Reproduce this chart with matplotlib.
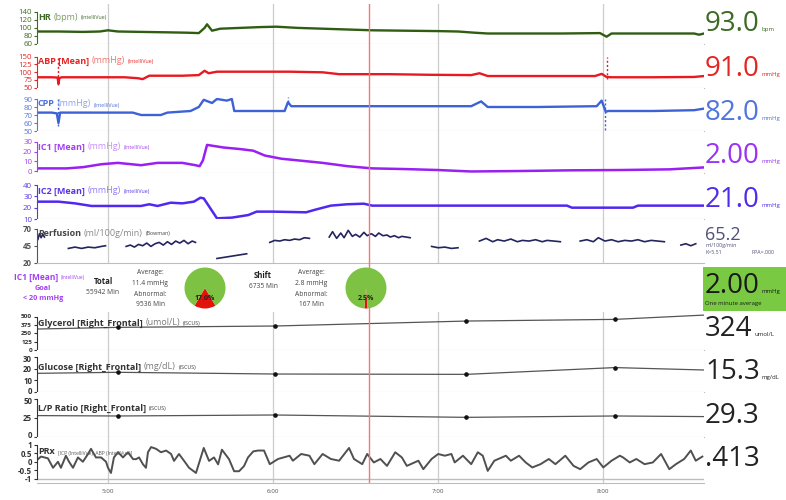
import numpy as np
import matplotlib.pyplot as plt
from matplotlib.patches import Rectangle
from matplotlib.transforms import ScaledTranslation
from matplotlib.offsetbox import TextArea, HPacker, AnchoredOffsetbox

plt.rcParams['font.family'] = ['Open Sans', 'DejaVu Sans']

W, H = 786, 500

# time axis in decimal hours
x_range = (4.57, 8.61)
cursor_t = 6.58
hour_ticks = [5, 6, 7, 8]
hour_labels = ['5:00', '6:00', '7:00', '8:00']

# ---- continuous monitor traces ----
hr_t = [4.57, 4.70, 4.85, 4.95, 5.00, 5.06, 5.20, 5.35, 5.48, 5.55, 5.585, 5.60, 5.63, 5.68, 5.80, 5.92, 6.02, 6.15,
        6.30, 6.45, 6.60, 6.80, 7.00, 7.12, 7.22, 7.30, 7.50, 7.75, 7.98, 8.02, 8.05, 8.20, 8.40, 8.55, 8.58, 8.61]
hr_v = [90, 90, 89, 90, 93, 90, 89, 88, 87, 86, 99, 108, 92, 97, 99, 101, 102, 99,
        97, 95, 93, 92, 91, 90, 87, 85, 85, 85, 86, 77, 85, 85, 85, 85, 82, 85]

abp_t = [4.57, 4.66, 4.695, 4.70, 4.705, 4.72, 4.90, 5.10, 5.18, 5.21, 5.25, 5.45, 5.55, 5.585, 5.61, 5.66, 5.90, 6.10,
         6.30, 6.40, 6.70, 6.95, 7.20, 7.25, 7.30, 7.60, 7.95, 7.99, 8.02, 8.05, 8.30, 8.55, 8.61]
abp_v = [83, 83, 82, 62, 80, 83, 83, 83, 80, 77, 88, 88, 90, 104, 96, 101, 101, 101,
         99, 93, 93, 91, 90, 96, 87, 87, 87, 94, 84, 83, 83, 84, 87]
# dotted artefact markers (time, low, high)
abp_artefact_t = [4.70, 8.02]
abp_artefact_lo = [58, 78]
abp_artefact_hi = [150, 150]

cpp_t = [4.57, 4.66, 4.69, 4.70, 4.71, 4.80, 5.00, 5.15, 5.20, 5.32, 5.36, 5.50, 5.55, 5.58, 5.63, 5.66, 5.72, 5.75, 5.765,
         5.90, 6.07, 6.09, 6.11, 6.40, 6.80, 7.20, 7.26, 7.30, 7.60, 7.96, 7.99, 8.015, 8.03, 8.30, 8.55, 8.61]
cpp_v = [73, 73, 72, 60, 73, 73, 73, 73, 70, 70, 73, 75, 80, 89, 85, 90, 88, 90, 75,
         75, 75, 86, 81, 81, 81, 81, 87, 80, 80, 81, 88, 74, 75, 75, 76, 78]
cpp_artefact_t = [4.70, 6.09, 8.01]
cpp_artefact_lo = [56, 86, 51]
cpp_artefact_hi = [90, 92, 90]

ic1_t = [4.57, 4.75, 4.85, 4.96, 5.06, 5.20, 5.30, 5.45, 5.53, 5.555, 5.575, 5.60, 5.70, 5.80, 5.88,
         5.95, 6.05, 6.15, 6.30, 6.45, 6.60, 6.80, 7.00, 7.20, 7.50, 7.80, 8.10, 8.40, 8.61]
ic1_v = [2.7, 2.7, 4, 7, 8.4, 6, 8.4, 8.4, 6, 5, 11, 27, 24.3, 22.7, 21,
         16, 12.7, 11, 8.4, 5, 2.7, 2, 1, -0.5, 0, 0.7, 1, 1.7, 3.7]

ic2_t = [4.57, 4.70, 4.80, 4.90, 5.20, 5.25, 5.30, 5.38, 5.45, 5.52, 5.56, 5.58, 5.66, 5.75, 5.85,
         5.90, 6.00, 6.20, 6.25, 6.35, 6.45, 6.55, 6.60, 7.78, 7.81, 8.18, 8.21, 8.61]
ic2_v = [25.3, 25.3, 23.8, 21.5, 21.5, 23, 21.5, 24.4, 23.8, 25.3, 28.8, 28.2, 10.6, 11.2, 13.5,
         16.5, 16.5, 15.9, 18, 21.8, 23, 23.5, 21.8, 21.8, 20, 20, 21.8, 21.8]

# perfusion is recorded in separate chunks
perf_segments = [
    ([4.565, 4.575, 4.585, 4.595, 4.605, 4.615], [60, 54, 63, 57, 62, 58]),
    ([4.76, 4.80, 4.84, 4.88, 4.92, 4.96, 4.985], [41, 43, 41, 43, 42, 44, 45]),
    ([5.11, 5.135, 5.16, 5.185, 5.21, 5.235, 5.26, 5.285, 5.31, 5.335, 5.36, 5.385, 5.41, 5.435, 5.46, 5.485, 5.51, 5.53],
     [44, 46, 43, 47, 45, 49, 44, 48, 50, 46, 51, 47, 52, 49, 53, 48, 52, 50]),
    ([5.66, 5.84], [26, 33]),
    ([5.98, 6.01, 6.04, 6.07, 6.10, 6.13, 6.16, 6.19, 6.22], [50, 53, 52, 54, 53, 55, 54, 57, 56]),
    ([6.34, 6.36, 6.385, 6.41, 6.43, 6.455, 6.48, 6.50, 6.525, 6.55, 6.57, 6.595, 6.62, 6.64, 6.665, 6.69, 6.71, 6.735,
      6.76, 6.78, 6.805, 6.83],
     [58, 66, 56, 64, 57, 68, 59, 62, 58, 65, 60, 63, 59, 64, 60, 61, 58, 60, 57, 59, 58, 57]),
    ([6.96, 7.00, 7.04, 7.08, 7.12], [44, 42, 43, 41, 42]),
    ([7.25, 7.29, 7.33, 7.36, 7.40, 7.44, 7.48, 7.51, 7.55, 7.59, 7.63, 7.66, 7.70, 7.74],
     [52, 56, 51, 54, 52, 55, 51, 53, 52, 54, 51, 53, 52, 51]),
    ([7.86, 7.90, 7.94, 7.97, 8.01, 8.05, 8.09, 8.13, 8.17, 8.21, 8.25, 8.29, 8.33, 8.37],
     [52, 54, 51, 57, 52, 54, 51, 53, 52, 54, 51, 53, 52, 51]),
    ([8.47, 8.50, 8.53, 8.56], [46, 48, 45, 48]),
]

# ---- microdialysis samples (line runs edge to edge) ----
md_line_t = [4.57, 5.06, 6.01, 7.17, 8.07, 8.61]
md_sample_t = [5.06, 6.01, 7.17, 8.07]
glycerol_v = [313, 338, 358, 432, 457, 521]
glucose_v = [15.8, 16.7, 15.2, 14.9, 20.8, 18.7]
lp_ratio_v = [27.5, 27.0, 28.3, 25.2, 27.0, 26.2]

prx_t = [4.564, 4.594, 4.636, 4.667, 4.697, 4.715, 4.745, 4.764, 4.788, 4.818, 4.848, 4.879, 4.897, 4.927, 4.958,
         4.988, 5.0, 5.018, 5.036, 5.061, 5.091, 5.121, 5.152, 5.17, 5.188, 5.212, 5.23, 5.242, 5.261, 5.291,
         5.321, 5.352, 5.382, 5.4, 5.43, 5.461, 5.491, 5.533, 5.58, 5.612, 5.642, 5.667, 5.69, 5.733, 5.764,
         5.794, 5.824, 5.848, 5.88, 5.909, 5.945, 5.98, 6.03, 6.10, 6.12, 6.17, 6.22, 6.25, 6.30, 6.35,
         6.40, 6.46, 6.49, 6.54, 6.57, 6.61, 6.65, 6.69, 6.74, 6.78, 6.81, 6.88, 6.91, 6.96, 7.00,
         7.04, 7.08, 7.10, 7.15, 7.20, 7.24, 7.27, 7.30, 7.34, 7.41, 7.44, 7.49, 7.53, 7.57, 7.62,
         7.67, 7.71, 7.77, 7.82, 7.86, 7.91, 7.96, 8.00, 8.05, 8.10, 8.12, 8.16, 8.20, 8.25, 8.30,
         8.35, 8.40, 8.44, 8.49, 8.53, 8.56, 8.60]
prx_v = [0.05, 0.3, 0.2, -0.35, 0.0, -0.35, 0.35, 0.0, -0.35, 0.25, 0.0, 0.45, 0.75, 0.25, 0.25,
         0.0, -0.35, -0.65, 0.25, 0.55, 0.25, 0.55, 0.15, 0.15, 0.25, -0.15, -0.35, 0.55, 0.85, 0.75,
         0.55, 0.65, 0.45, 0.05, 0.45, 0.05, -0.35, -0.65, 0.8, 0.05, 0.25, -0.15, 0.7, 0.15, -0.55,
         -0.55, -0.25, 0.25, 0.6, 0.65, 0.65, -0.14, 0.16, 0.35, 0.06, 0.45, 0.35, -0.14, 0.45, 0.16,
         0.06, 0.8, 0.16, -0.14, 0.45, -0.04, 0.16, -0.24, 0.55, 0.25, -0.24, 0.06, -0.43, 0.16, 0.45,
         0.35, 0.45, -0.04, 0.35, -0.14, 0.55, 0.35, -0.53, 0.06, 0.35, 0.06, 0.35, -0.04, -0.33, -0.14,
         0.16, -0.14, 0.35, -0.24, -0.43, -0.04, 0.16, -0.33, 0.06, 0.35, 0.25, -0.04, 0.16, -0.14, -0.04,
         0.45, -0.43, -0.14, 0.16, 0.65, 0.06, 0.3]

# ---- summary row ----
goal_text = ['Goal', '< 20 mmHg']
total_text = ['Total', '55942 Min']
total_stats = ['Average:', '11.4 mmHg', 'Abnormal:', '9536 Min']
total_abnormal_pct = 17.0
shift_text = ['Shift', '6735 Min']
shift_stats = ['Average:', '2.8 mmHg', 'Abnormal:', '167 Min']
shift_abnormal_pct = 2.5

# ---- current values shown at the right ----
current_values = ['93.0', '91.0', '82.0', '2.00', '21.0', '65.2', '324', '15.3', '29.3', '.413']
current_units = ['bpm', 'mmHg', 'mmHg', 'mmHg', 'mmHg', '', 'umol/L', 'mg/dL', '', '']
minute_avg = '2.00'

fig = plt.figure(figsize=(W / 100, H / 100), dpi=100)

GRID = '#cccccc'
SEP = '#bdbdbd'
CURSOR = '#f07a7a'


def nudge(label, dy_px):
    label.set_transform(label.get_transform() + ScaledTranslation(0, dy_px / 100, fig.dpi_scale_trans))


def add_panel(top, bottom, tick_top_px, tick_bot_px, v_top, v_bot, ticks, color, bold=False,
              squeeze=(0, 0), labelsize=5.7):
    ax = fig.add_axes([37 / W, 1 - bottom / H, (704 - 37) / W, (bottom - top) / H])
    k = (v_top - v_bot) / (tick_bot_px - tick_top_px)
    ax.set_ylim(v_bot - (bottom - tick_bot_px) * k, v_top + (tick_top_px - top) * k)
    ax.set_xlim(*x_range)
    for s in ['top', 'right']:
        ax.spines[s].set_visible(False)
    ax.spines['left'].set_color(color)
    ax.spines['left'].set_bounds(v_bot, v_top)
    ax.spines['bottom'].set_color(SEP)
    ax.set_yticks(ticks)
    ax.tick_params(axis='y', colors=color, labelsize=labelsize, length=2.5, width=0.8, pad=1)
    labels = ax.get_yticklabels()
    if bold:
        for lab in labels:
            lab.set_fontweight('bold')
    # keep end labels of stacked panels from touching
    if squeeze[0]:
        nudge(labels[0], squeeze[0])
    if squeeze[1]:
        nudge(labels[-1], -squeeze[1])
    ax.set_xticks(hour_ticks)
    ax.set_xticklabels([])
    ax.tick_params(axis='x', length=0)
    ax.grid(axis='x', color=GRID, lw=0.9)
    ax.axvline(cursor_t, color=CURSOR, lw=1, zorder=5)
    return ax


def label_row(parts, x, y, loc='center left', sep=2):
    boxes = [TextArea(s, textprops=p) for s, p in parts]
    pack = HPacker(children=boxes, align='baseline', pad=0, sep=sep)
    box = AnchoredOffsetbox(loc=loc, child=pack, pad=0, borderpad=0, frameon=False,
                            bbox_to_anchor=(x / W, 1 - y / H), bbox_transform=fig.transFigure)
    fig.add_artist(box)


def panel_title(y, name, unit, source, c_main, c_light):
    parts = [(name, dict(color=c_main, fontsize=6.5, fontweight='bold'))]
    if unit:
        parts.append((unit, dict(color=c_light, fontsize=6.5)))
    parts.append((source, dict(color=c_main, fontsize=3.8)))
    label_row(parts, 38, y)


def current(y, value, unit, color, size=20):
    parts = [(value, dict(color=color, fontsize=size))]
    if unit:
        parts.append((unit, dict(color=color, fontsize=4.3)))
    label_row(parts, 705, y, sep=1.5)


# ---- top monitor panels ----
c_hr, c_abp, c_cpp, c_ic1, c_ic2, c_perf = '#2f5d12', '#e8191f', '#3d62d6', '#9a1ff2', '#5128f0', '#24245e'

ax = add_panel(4, 43.5, 11.5, 43.5, 140, 60, [60, 80, 100, 120, 140], '#3d6b24')
ax.plot(hr_t, hr_v, color=c_hr, lw=1.7)
panel_title(17, 'HR', '(bpm)', '(IntelliVue)', '#3d6b24', '#7d9c66')
current(24, current_values[0], current_units[0], '#3d6b24')

ax = add_panel(43.5, 87.5, 56.5, 87.5, 150, 50, [50, 75, 100, 125, 150], '#e52521')
ax.plot(abp_t, abp_v, color=c_abp, lw=1.7)
ax.vlines(abp_artefact_t, abp_artefact_lo, abp_artefact_hi, colors=c_abp, linestyles=(0, (1.5, 1.5)), lw=1)
panel_title(61, 'ABP [Mean]', '(mmHg)', '(IntelliVue)', '#e52521', '#ee7571')
current(69, current_values[1], current_units[1], '#e52521')

ax = add_panel(87.5, 131, 99, 131, 90, 50, [50, 60, 70, 80, 90], '#5577de')
ax.plot(cpp_t, cpp_v, color=c_cpp, lw=1.7)
ax.vlines(cpp_artefact_t, cpp_artefact_lo, cpp_artefact_hi, colors=c_cpp, linestyles=(0, (1.5, 1.5)), lw=1)
panel_title(104, 'CPP', '(mmHg)', '(IntelliVue)', '#4d6fd8', '#8ea3ea')
current(113, current_values[2], current_units[2], '#5075dc')

ax = add_panel(131, 173, 142, 171, 30, 0, [0, 10, 20, 30], '#a33ff2')
ax.plot(ic1_t, ic1_v, color=c_ic1, lw=1.8)
panel_title(147, 'IC1 [Mean]', '(mmHg)', '(IntelliVue)', '#a33ff2', '#c690f6')
current(156, current_values[3], current_units[3], '#9b33f2')

ax = add_panel(173, 219, 185, 219, 40, 10, [10, 20, 30, 40], '#5a35e6')
ax.plot(ic2_t, ic2_v, color=c_ic2, lw=1.8)
panel_title(191, 'IC2 [Mean]', '(mmHg)', '(IntelliVue)', '#5a35e6', '#927df0')
current(200, current_values[4], current_units[4], '#4f2de8')

ax = add_panel(219, 262.5, 229, 262.5, 70, 20, [20, 45, 70], '#555555', bold=True)
for seg_t, seg_v in perf_segments:
    ax.plot(seg_t, seg_v, color=c_perf, lw=1.2)
panel_title(233, 'Perfusion', '(ml/100g/min)', '(Bowman)', '#444444', '#8a8a8a')
current(235, current_values[5], current_units[5], '#50507a', size=13)
fig.text(706 / W, 1 - 245 / H, 'ml/100g/min', fontsize=3.8, color='#50507a', va='center')
fig.text(706 / W, 1 - 253 / H, 'K=5.51', fontsize=3.8, color='#50507a', va='center')
fig.text(752 / W, 1 - 253 / H, 'PPA=.000', fontsize=3.8, color='#50507a', va='center')

# ---- summary row ----
axs = fig.add_axes([37 / W, 1 - 312 / H, (704 - 37) / W, (312 - 262.5) / H])
axs.set_xlim(*x_range)
axs.axis('off')
axs.axvline(cursor_t, color=CURSOR, lw=1)

label_row([('IC1 [Mean]', dict(color='#a33ff2', fontsize=6, fontweight='bold')),
           ('(IntelliVue)', dict(color='#a33ff2', fontsize=3.5))], 14, 277)
fig.text(43 / W, 1 - 288 / H, goal_text[0], fontsize=5.2, color='#a33ff2', fontweight='bold', ha='center', va='center')
fig.text(43 / W, 1 - 299 / H, goal_text[1], fontsize=5.2, color='#a33ff2', fontweight='bold', ha='center', va='center')


def stats_block(x_head, y_head, head, x_stats, stats):
    fig.text(x_head / W, 1 - y_head / H, head[0], fontsize=5.6, fontweight='bold', color='#222222',
             ha='center', va='center')
    fig.text(x_head / W, 1 - (y_head + 11) / H, head[1], fontsize=4.8, color='#444444', ha='center', va='center')
    for i, s in enumerate(stats):
        fig.text(x_stats / W, 1 - (273 + 10.5 * i) / H, s, fontsize=4.8, color='#444444',
                 ha='center', va='center')


stats_block(103, 282, total_text, 150, total_stats)
stats_block(263, 275, shift_text, 311, shift_stats)


def pie_at(cx, cy, r, pct):
    pax = fig.add_axes([(cx - r) / W, 1 - (cy + r) / H, 2 * r / W, 2 * r / H])
    pax.pie([pct, 100 - pct], colors=['#e3120b', '#7dc242'], startangle=270 - pct * 1.8,
            counterclock=True, radius=1, wedgeprops=dict(linewidth=0))
    pax.set_xlim(-1, 1)
    pax.set_ylim(-1, 1)
    pax.text(0, -0.52, f'{pct:.1f}%', fontsize=5, fontweight='bold', color='#222222', ha='center', va='center')


pie_at(205, 288, 20.5, total_abnormal_pct)
pie_at(366, 288, 20.5, shift_abnormal_pct)

fig.add_artist(Rectangle((703 / W, 1 - 311 / H), 83 / W, 44 / H, transform=fig.transFigure,
                         facecolor='#7ac943', edgecolor='none'))
current(286, minute_avg, 'mmHg', '#1a1a1a')
fig.text(705 / W, 1 - 303 / H, 'One minute average', fontsize=4.3, color='#1a1a1a', va='center')

# ---- microdialysis + PRx panels ----
MD = '#555555'


def md_panel(ax, values):
    ax.plot(md_line_t, values, color=MD, lw=0.9)
    ax.plot(md_sample_t, values[1:-1], 'o', color='#111111', ms=2.3)


ax = add_panel(312, 350, 316.5, 350, 500, 0, [0, 125, 250, 375, 500], '#333333', bold=True, labelsize=4.6)
md_panel(ax, glycerol_v)
panel_title(323, 'Glycerol [Right_Frontal]', '(umol/L)', '(ISCUS)', '#333333', '#7a7a7a')
current(329, current_values[6], current_units[6], '#222222')

ax = add_panel(350, 391.5, 357, 391.5, 30, 0, [0, 10, 20, 30], '#333333', bold=True, squeeze=(1.5, 2))
md_panel(ax, glucose_v)
panel_title(367, 'Glucose [Right_Frontal]', '(mg/dL)', '(ISCUS)', '#333333', '#7a7a7a')
current(372, current_values[7], current_units[7], '#222222')

ax = add_panel(391.5, 436.5, 398.5, 436.5, 50, 0, [0, 25, 50], '#333333', bold=True, squeeze=(1.5, 1.5))
md_panel(ax, lp_ratio_v)
panel_title(408, 'L/P Ratio [Right_Frontal]', '', '(ISCUS)', '#333333', '#7a7a7a')
current(416, current_values[8], current_units[8], '#222222')

ax = add_panel(436.5, 483, 444.5, 479, 1, -1, [-1, -0.5, 0, 0.5, 1], '#333333', bold=True)
ax.set_yticklabels(['-1', '-0.5', '0', '0.5', '1'], fontweight='bold')
ax.axhline(-1, color=SEP, lw=1)
ax.plot(prx_t, prx_v, color='#505050', lw=1.4)
ax.set_xticklabels(hour_labels)
ax.tick_params(axis='x', labelsize=4.5, labelcolor='#555555', pad=4)
label_row([('PRx', dict(color='#333333', fontsize=6.5, fontweight='bold')),
           ('[ICP (IntelliVue), ABP (IntelliVue)]', dict(color='#555555', fontsize=3.6))], 38, 452)
current(459, current_values[9], current_units[9], '#222222')

fig.savefig('out.png', dpi=100)
